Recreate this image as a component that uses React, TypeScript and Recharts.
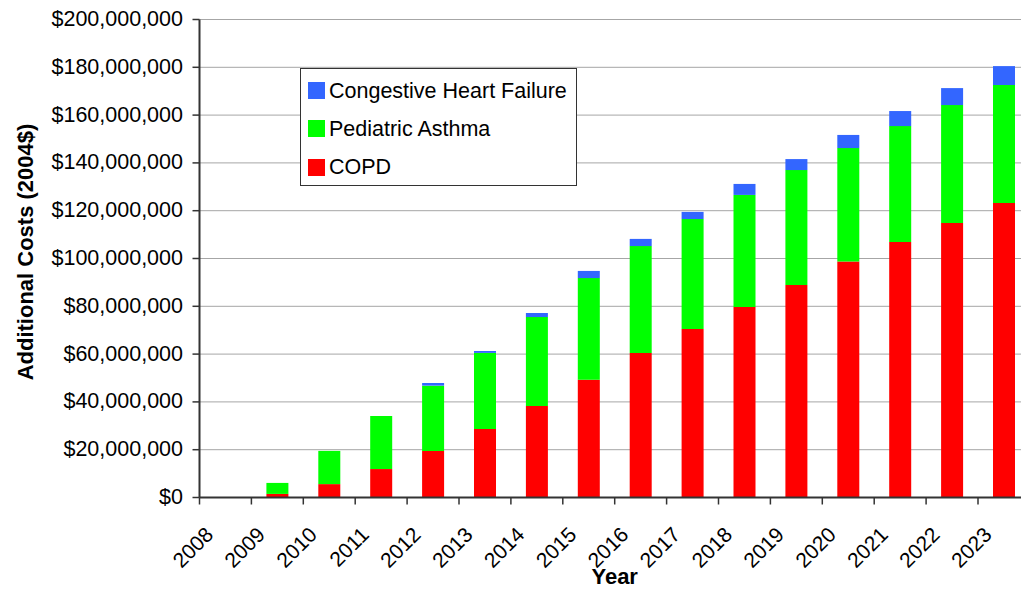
import React from 'react';
import { BarChart, Bar, XAxis, YAxis, CartesianGrid, Legend, Label } from 'recharts';

// ---- data (values in millions of 2004 dollars) ----
const years = ['2008', '2009', '2010', '2011', '2012', '2013', '2014', '2015', '2016', '2017', '2018', '2019', '2020', '2021', '2022', '2023'];
const copd = [0, 1.5, 5.6, 11.9, 19.5, 28.7, 38.3, 49.3, 60.5, 70.5, 79.7, 88.9, 98.7, 106.9, 114.9, 123.2];
const asthma = [0, 4.6, 13.9, 22.2, 27.3, 31.8, 37.2, 42.5, 44.7, 46.0, 46.9, 48.1, 47.5, 48.5, 49.3, 49.4];
const chf = [0, 0, 0, 0, 1.1, 0.8, 1.7, 3.0, 3.0, 3.0, 4.6, 4.6, 5.5, 6.3, 7.1, 7.9];
const yTicks = [0, 20, 40, 60, 80, 100, 120, 140, 160, 180, 200];
const MILLION = 1000000;

const seriesKeys = ['copd', 'asthma', 'chf'];
const seriesNames: Record<string, string> = { copd: 'COPD', asthma: 'Pediatric Asthma', chf: 'Congestive Heart Failure' };
const seriesColors: Record<string, string> = { copd: '#FF0000', asthma: '#00FF00', chf: '#3366FF' };
const legendOrder = ['chf', 'asthma', 'copd'];

const data = years.map((year, i) => ({
  year,
  copd: copd[i] * MILLION,
  asthma: asthma[i] * MILLION,
  chf: chf[i] * MILLION,
}));

// ---- layout ----
const CHART_W = 1040;
const CHART_H = 589;
const PLOT_LEFT = 199.5;
const PLOT_TOP = 19.5;
const PLOT_BOTTOM = 497.5;
const PLOT_RIGHT = 1029.9;
const BAND = (PLOT_RIGHT - PLOT_LEFT) / years.length;
const FONT = "'Liberation Sans', Arial, Helvetica, sans-serif";
const AXIS_COLOR = '#333333';

const fmtMoney = (v: number) => '$' + Math.round(v).toLocaleString('en-US');

const XTick = (props: any) => {
  const { x, payload, index } = props;
  const ax = x - 11;
  const ay = PLOT_BOTTOM + 38.5;
  return (
    <g>
      <line x1={x - BAND / 2} y1={PLOT_BOTTOM} x2={x - BAND / 2} y2={PLOT_BOTTOM + 7} stroke={AXIS_COLOR} strokeWidth={1.5} />
      {index === years.length - 1 && (
        <line x1={x + BAND / 2} y1={PLOT_BOTTOM} x2={x + BAND / 2} y2={PLOT_BOTTOM + 7} stroke={AXIS_COLOR} strokeWidth={1.5} />
      )}
      <text x={ax} y={ay} textAnchor="end" transform={`rotate(-45, ${ax}, ${ay})`} fontSize={21} fill="#000" fontFamily={FONT}>
        {payload.value}
      </text>
    </g>
  );
};

const YTick = (props: any) => {
  const { x, y, payload } = props;
  return (
    <text x={x} y={y} dy={6.5} textAnchor="end" fontSize={21.5} fill="#000" fontFamily={FONT}>
      {fmtMoney(payload.value)}
    </text>
  );
};

const LegendBox = () => (
  <div
    style={{
      boxSizing: 'border-box',
      width: 277,
      height: 118,
      border: '1px solid #333',
      background: '#fff',
      position: 'relative',
      fontFamily: FONT,
    }}
  >
    {legendOrder.map((k, i) => (
      <div
        key={k}
        style={{ position: 'absolute', left: 7, top: 2.5 + i * 38.3, height: 38, display: 'flex', alignItems: 'center' }}
      >
        <span style={{ width: 17, height: 17, background: seriesColors[k], display: 'inline-block', marginRight: 4 }} />
        <span style={{ fontSize: 21.5, color: '#000', lineHeight: '38px', whiteSpace: 'nowrap' }}>{seriesNames[k]}</span>
      </div>
    ))}
  </div>
);

export default function App() {
  return (
    <div style={{ position: 'fixed', left: 0, top: 0, width: 1021, height: 589, overflow: 'hidden', background: '#fff', fontFamily: FONT }}>
      <BarChart
        width={CHART_W}
        height={CHART_H}
        data={data}
        margin={{ top: PLOT_TOP, right: CHART_W - PLOT_RIGHT, bottom: 0, left: 0 }}
        barSize={22}
      >
        <CartesianGrid vertical={false} stroke="#a6a6a6" strokeWidth={1} />
        <XAxis
          dataKey="year"
          interval={0}
          height={CHART_H - PLOT_BOTTOM}
          tickSize={0}
          tickMargin={0}
          tickLine={false}
          axisLine={{ stroke: AXIS_COLOR, strokeWidth: 2 }}
          tick={<XTick />}
        >
          <Label
            content={(p: any) => {
              const vb = p.viewBox || {};
              const cx = (vb.x ?? PLOT_LEFT) + (vb.width ?? PLOT_RIGHT - PLOT_LEFT) / 2;
              return (
                <text x={cx} y={583.5} textAnchor="middle" fontSize={22} fontWeight="bold" fill="#000" fontFamily={FONT}>
                  Year
                </text>
              );
            }}
          />
        </XAxis>
        <YAxis
          width={PLOT_LEFT}
          domain={[0, yTicks[yTicks.length - 1] * MILLION]}
          ticks={yTicks.map((t) => t * MILLION)}
          interval={0}
          tickSize={7}
          tickMargin={9.5}
          tickLine={{ stroke: AXIS_COLOR, strokeWidth: 1.5 }}
          axisLine={{ stroke: AXIS_COLOR, strokeWidth: 2 }}
          tick={<YTick />}
        >
          <Label
            content={() => (
              <text
                x={32.5}
                y={252}
                textAnchor="middle"
                transform="rotate(-90, 32.5, 252)"
                fontSize={22}
                fontWeight="bold"
                fill="#000"
                fontFamily={FONT}
              >
                Additional Costs (2004$)
              </text>
            )}
          />
        </YAxis>
        <Legend
          layout="vertical"
          align="center"
          verticalAlign="middle"
          wrapperStyle={{ position: 'absolute', left: 300, top: 68, width: 277, height: 118 }}
          content={() => <LegendBox />}
        />
        {seriesKeys.map((k) => (
          <Bar key={k} dataKey={k} name={seriesNames[k]} stackId="total" fill={seriesColors[k]} isAnimationActive={false} />
        ))}
      </BarChart>
    </div>
  );
}
